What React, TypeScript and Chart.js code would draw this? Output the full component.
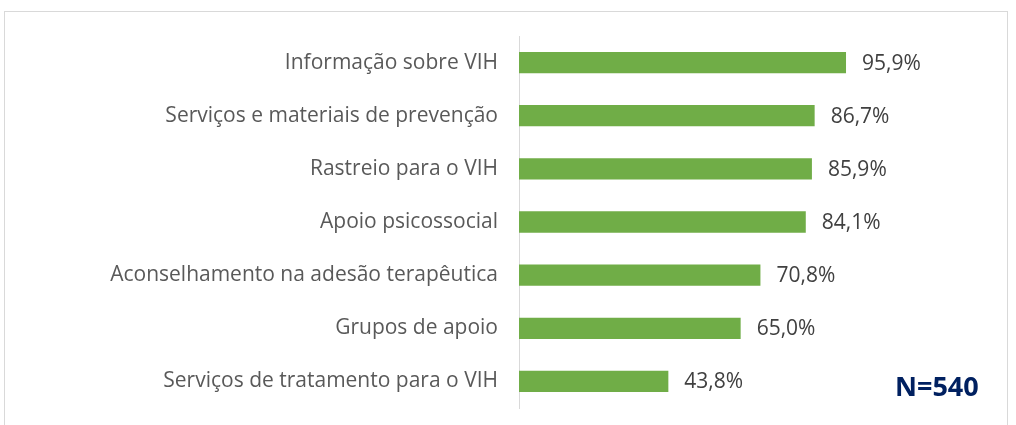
import React, { useEffect, useRef } from "react";
import { Chart, registerables } from "chart.js";

Chart.register(...registerables);

const categories = [
  "Informação sobre VIH",
  "Serviços e materiais de prevenção",
  "Rastreio para o VIH",
  "Apoio psicossocial",
  "Aconselhamento na adesão terapêutica",
  "Grupos de apoio",
  "Serviços de tratamento para o VIH",
];
const values = [95.9, 86.7, 85.9, 84.1, 70.8, 65.0, 43.8];
const sampleLabel = "N=540";

const FONT = "'Open Sans', 'Noto Sans', sans-serif";

const decorPlugin = {
  id: "decor",
  beforeDraw(chart: any) {
    const ctx = chart.ctx;
    ctx.save();
    ctx.fillStyle = "#ffffff";
    ctx.fillRect(0, 0, chart.width, chart.height);
    ctx.strokeStyle = "#D9D9D9";
    ctx.lineWidth = 1;
    ctx.strokeRect(4.5, 11.5, 1003, 430);
    ctx.restore();
  },
  afterDatasetsDraw(chart: any) {
    const ctx = chart.ctx;
    const meta = chart.getDatasetMeta(0);
    ctx.save();
    ctx.font = `21px ${FONT}`;
    ctx.fillStyle = "#404040";
    ctx.textBaseline = "middle";
    ctx.textAlign = "left";
    meta.data.forEach((bar: any, i: number) => {
      const v = values[i];
      const txt = v.toFixed(1).replace(".", ",") + "%";
      ctx.fillText(txt, bar.x + 16, bar.y + 1);
    });
    ctx.font = `bold 27px ${FONT}`;
    ctx.fillStyle = "#002060";
    ctx.textAlign = "left";
    ctx.fillText(sampleLabel, 895, 388);
    ctx.restore();
  },
};

export default function App() {
  const ref = useRef<HTMLCanvasElement>(null);
  useEffect(() => {
    document.body.style.margin = "0";
    const chart = new Chart(ref.current!, {
      type: "bar",
      data: {
        labels: categories,
        datasets: [
          {
            data: values,
            backgroundColor: "#70AD47",
            borderWidth: 0,
            categoryPercentage: 1,
            barPercentage: 0.4,
          },
        ],
      },
      options: {
        indexAxis: "y",
        animation: false,
        responsive: false,
        maintainAspectRatio: false,
        layout: { padding: { left: 0, top: 36, bottom: 17, right: 156 } },
        plugins: { legend: { display: false }, tooltip: { enabled: false } },
        scales: {
          x: { display: false, min: 0, max: 100 },
          y: {
            afterFit(scale: any) {
              scale.width = 519;
              scale.paddingTop = 0;
              scale.paddingBottom = 0;
            },
            grid: { display: false, drawTicks: false },
            border: { display: true, color: "#D9D9D9", width: 1 },
            ticks: {
              padding: 21,
              color: "#595959",
              font: { family: FONT, size: 21 },
            },
          },
        },
      },
      plugins: [decorPlugin],
    });
    return () => chart.destroy();
  }, []);
  return <canvas ref={ref} width={1016} height={425} style={{ display: "block" }} />;
}
